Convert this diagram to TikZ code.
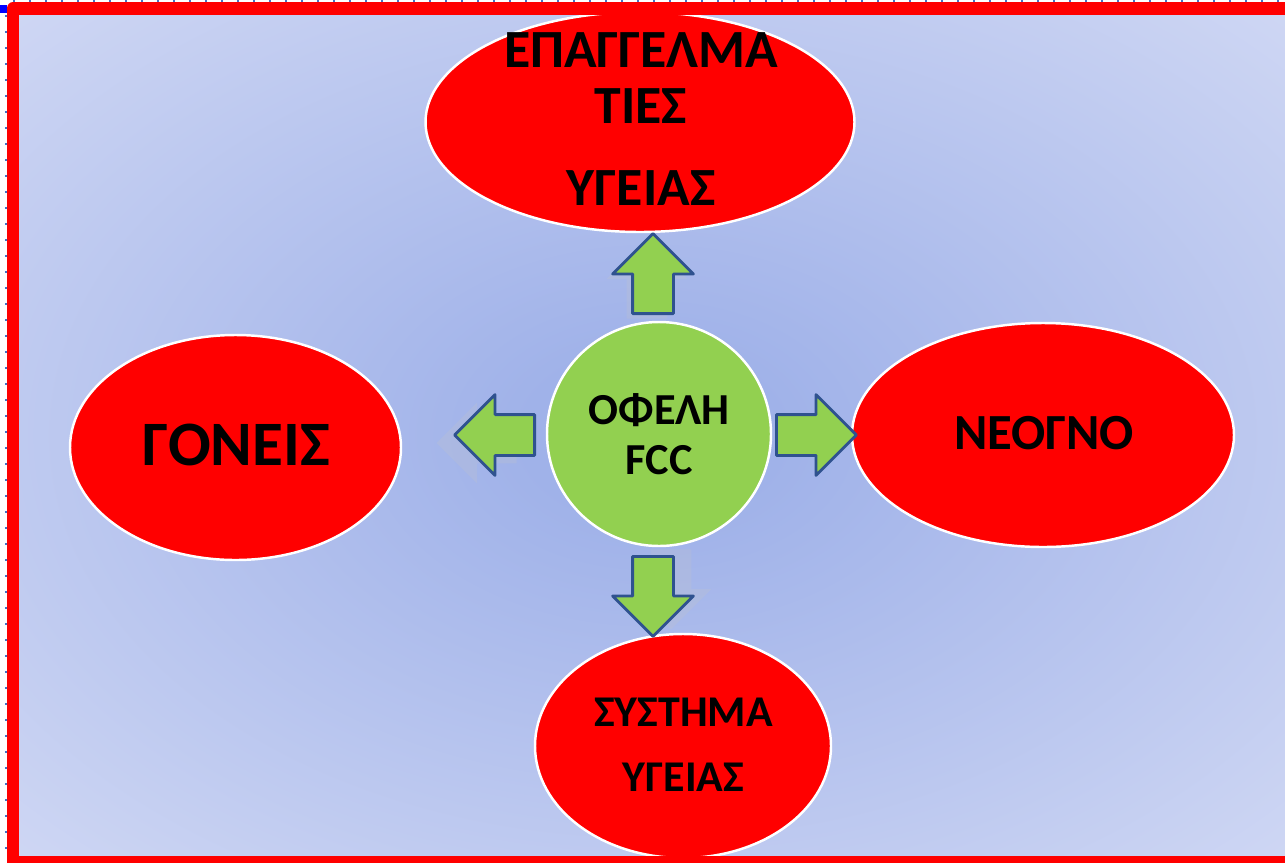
\documentclass[tikz,border=0pt]{standalone}
\usepackage{fontspec}
\setmainfont{Carlito}
\usetikzlibrary{shapes.geometric,shapes.arrows}
\definecolor{bgin}{RGB}{160,178,233}
\definecolor{bgout}{RGB}{226,230,248}
\definecolor{leaf}{RGB}{146,208,80}
\definecolor{edge}{RGB}{47,82,143}
\definecolor{dots}{RGB}{68,114,196}
\pgfdeclareradialshading{glow}{\pgfpoint{0bp}{0bp}}{color(0bp)=(bgin); color(5bp)=(bgin); color(48bp)=(bgout); color(75bp)=(bgout)}

\begin{document}
\begin{tikzpicture}[line join=round]
	\tikzstyle{blob}=[ellipse,draw=white,line width=0.7pt,fill=red,inner sep=0pt];
	\tikzstyle{dart}=[single arrow,draw=edge,line width=0.8pt,fill=leaf,inner xsep=0pt,inner ysep=0.19cm,minimum height=0.8cm,single arrow head extend=0.2cm,anchor=tail];
	\tikzstyle{ghost}=[dart,draw=none,fill=white!55!gray,opacity=0.22];
	\tikzstyle{word}=[align=center,inner sep=0pt];
	\tikzstyle{dotline}=[dots,line width=0.02cm,dash pattern=on 0.02cm off 0.14cm];
	\useasboundingbox (0,0) rectangle (12.85,8.62);
	\clip (0,0) rectangle (12.85,8.62);
	\shade[shading=glow] (0.13,0) rectangle (12.92,8.535);
	\draw[dotline] (0.13,8.615) -- (12.85,8.615);
	\draw[dotline] (0.06,8.47) -- (0.06,0);
	\fill[blue] (0,8.57) rectangle (0.07,8.49);
	\node[ghost,rotate=90] (upS) at (6.47,5.42) {};
	\node[ghost,rotate=180] (leftS) at (5.18,4.19) {};
	\node[ghost,rotate=-90] (downS) at (6.71,3.14) {};
	\node[circle,draw=white,line width=0.7pt,fill=leaf,minimum size=2.24cm,inner sep=0pt] (fcc) at (6.59,4.28) {};
	\node[blob,minimum width=4.29cm,minimum height=2.20cm] (prof) at (6.40,7.40) {};
	\node[blob,minimum width=3.31cm,minimum height=2.25cm] (gon) at (2.355,4.145) {};
	\node[blob,minimum width=3.82cm,minimum height=2.24cm] (neo) at (10.43,4.27) {};
	\node[blob,minimum width=2.96cm,minimum height=2.24cm] (sys) at (6.83,1.16) {};
	\node[word,font=\bfseries\fontsize{12.6}{14.2}\selectfont] (fccT) at (fcc) {ΟΦΕΛΗ\\FCC};
	\node[word,font=\bfseries\fontsize{15.3}{15.9}\selectfont] (profT) at (6.41,7.43) {ΕΠΑΓΓΕΛΜΑ\\ΤΙΕΣ\\[7.4pt]ΥΓΕΙΑΣ};
	\node[word,font=\bfseries\fontsize{18}{21}\selectfont] (gonT) at (2.36,4.17) {ΓΟΝΕΙΣ};
	\node[word,font=\bfseries\fontsize{14.4}{17}\selectfont] (neoT) at (10.44,4.29) {ΝΕΟΓΝΟ};
	\node[word,font=\bfseries\fontsize{12.5}{18.5}\selectfont] (sysT) at (6.835,1.17) {ΣΥΣΤΗΜΑ\\ΥΓΕΙΑΣ};
	\node[dart,rotate=90] (up) at (6.53,5.47) {};
	\node[dart,rotate=180] (left) at (5.36,4.27) {};
	\node[dart,rotate=-90] (down) at (6.53,3.07) {};
	\node[dart] (right) at (7.75,4.27) {};
	\draw[red,line width=0.125cm] (0.13,0) rectangle (12.92,8.535);
\end{tikzpicture}
\end{document}
